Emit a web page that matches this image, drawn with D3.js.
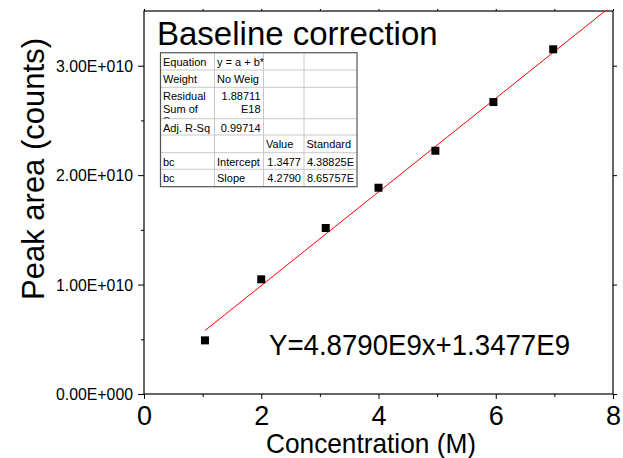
<!DOCTYPE html>
<html>
<head>
<meta charset="utf-8">
<script src="https://cdn.jsdelivr.net/npm/d3@7"></script>
<style>
  body { margin: 0; background: #fff; }
  svg { display: block; font-family: "Liberation Sans", Arial, sans-serif; }
</style>
</head>
<body>
<svg id="chart" width="623" height="458"></svg>
<script>
// values
var concentration = [1.04, 2.0, 3.1, 4.0, 4.97, 5.96, 6.98];
var peakArea = [4.9e9, 1.048e10, 1.517e10, 1.885e10, 2.223e10, 2.668e10, 3.15e10];
var xMajor = [0, 2, 4, 6, 8];
var xMinor = [1, 3, 5, 7];
var yMajor = [0, 1e10, 2e10, 3e10];
var yMinor = [0.5e10, 1.5e10, 2.5e10];
var fitSlope = 4.279e9, fitIntercept = 1.3477e9;

// fit report table (Origin style), rows of cells
var tableRows = [
  ["Equation", "y = a + b*", "", ""],
  ["Weight", "No Weig", "", ""],
  ["Residual\nSum of\nSquares", "1.88711\nE18", "", ""],
  ["Adj. R-Sq", "0.99714", "", ""],
  ["", "", "Value", "Standard"],
  ["bc", "Intercept", "1.3477", "4.38825E"],
  ["bc", "Slope", "4.2790", "8.65757E"]
];

var svg = d3.select("#chart");
var plotL = 144, plotR = 613, plotT = 11, plotB = 394;

var x = d3.scaleLinear().domain([0, 8]).range([plotL, plotR]);
var y = d3.scaleLinear().domain([0, 3.5e10]).range([plotB, plotT]);

svg.append("defs").append("clipPath").attr("id", "plotclip")
  .append("rect").attr("x", plotL).attr("y", plotT)
  .attr("width", plotR - plotL).attr("height", plotB - plotT);

// axes (ticks outward on left / bottom)
var yFmt = function(d){ return d === 0 ? "0.00E+000" : (d / 1e10).toFixed(2) + "E+010"; };

var gy = svg.append("g").attr("transform", "translate(" + plotL + ",0)")
  .call(d3.axisLeft(y).tickValues(yMajor).tickSize(6).tickPadding(5).tickFormat(yFmt));
gy.selectAll("text").attr("font-size", 17).attr("fill", "#000")
  .attr("textLength", 77).attr("lengthAdjust", "spacingAndGlyphs")
  .attr("font-family", "Liberation Sans, Arial, sans-serif");
svg.append("g").attr("transform", "translate(" + plotL + ",0)")
  .call(d3.axisLeft(y).tickValues(yMinor).tickSize(3).tickFormat(""));

var gx = svg.append("g").attr("transform", "translate(0," + plotB + ")")
  .call(d3.axisBottom(x).tickValues(xMajor).tickSize(5).tickPadding(7).tickFormat(d3.format("d")));
gx.selectAll("text").attr("font-size", 27).attr("fill", "#000")
  .attr("font-family", "Liberation Sans, Arial, sans-serif");
svg.append("g").attr("transform", "translate(0," + plotB + ")")
  .call(d3.axisBottom(x).tickValues(xMinor).tickSize(3).tickFormat(""));

// mirrored top / right axes
svg.append("g").attr("transform", "translate(0," + plotT + ")")
  .call(d3.axisTop(x).tickValues(xMajor.concat(xMinor)).tickSize(2).tickFormat(""));
svg.append("g").attr("transform", "translate(" + plotR + ",0)")
  .call(d3.axisRight(y).tickValues(yMajor).tickSize(4).tickFormat(""));

svg.selectAll(".domain").remove();
svg.selectAll(".tick line").attr("stroke", "#000");

svg.append("rect").attr("x", plotL).attr("y", plotT)
  .attr("width", plotR - plotL).attr("height", plotB - plotT)
  .attr("fill", "none").attr("stroke", "#000").attr("stroke-width", 1.2);

// linear fit
svg.append("line").attr("clip-path", "url(#plotclip)")
  .attr("x1", x(d3.min(concentration))).attr("y1", y(fitSlope * d3.min(concentration) + fitIntercept))
  .attr("x2", x(8)).attr("y2", y(fitSlope * 8 + fitIntercept))
  .attr("stroke", "#ff0000").attr("stroke-width", 1);

// data points
svg.append("g").selectAll("rect").data(concentration).enter().append("rect")
  .attr("x", function(d){ return x(d) - 4; })
  .attr("y", function(d, i){ return y(peakArea[i]) - 4; })
  .attr("width", 8).attr("height", 8).attr("fill", "#000");

// titles
svg.append("text").attr("x", 371).attr("y", 453).attr("text-anchor", "middle")
  .attr("font-size", 28).attr("textLength", 210).attr("lengthAdjust", "spacingAndGlyphs")
  .text("Concentration (M)");
svg.append("text").attr("transform", "translate(44,169) rotate(-90)").attr("text-anchor", "middle")
  .attr("font-size", 31).text("Peak area (counts)");
svg.append("text").attr("x", 157).attr("y", 45).attr("font-size", 33).text("Baseline correction");
svg.append("text").attr("x", 269).attr("y", 355).attr("font-size", 30)
  .attr("textLength", 301).attr("lengthAdjust", "spacingAndGlyphs")
  .text("Y=4.8790E9x+1.3477E9");

// table
var colW = [54, 49, 40.5, 53], rowH = [17.3, 17.3, 31.4, 16.3, 17.7, 16.6, 17.4];
var tx = 160.5, ty = 52.7;
var colX = [tx], rowY = [ty];
colW.forEach(function(w, i){ colX.push(colX[i] + w); });
rowH.forEach(function(h, i){ rowY.push(rowY[i] + h); });
var tbl = svg.append("g");
tbl.append("rect").attr("x", tx).attr("y", ty)
  .attr("width", colX[4] - tx).attr("height", rowY[7] - ty).attr("fill", "#fff");
colX.slice(1, 4).forEach(function(cx){
  tbl.append("line").attr("x1", cx).attr("x2", cx).attr("y1", ty).attr("y2", rowY[7])
    .attr("stroke", "#c8c8c8");
});
rowY.slice(1, 7).forEach(function(ry){
  tbl.append("line").attr("x1", tx).attr("x2", colX[4]).attr("y1", ry).attr("y2", ry)
    .attr("stroke", "#c8c8c8");
});
// right-aligned numeric cells
var rightAlign = function(r, c){ return (c === 1 && (r === 2 || r === 3)) || (c === 2 && r >= 5) || (c === 3 && r >= 5); };
tableRows.forEach(function(row, r){
  row.forEach(function(cell, c){
    if (!cell) return;
    var id = "cell" + r + "_" + c;
    tbl.append("clipPath").attr("id", id).append("rect")
      .attr("x", colX[c]).attr("y", rowY[r]).attr("width", colW[c]).attr("height", rowH[r]);
    var ra = rightAlign(r, c);
    var t = tbl.append("text").attr("clip-path", "url(#" + id + ")")
      .attr("font-size", 11).attr("fill", "#000")
      .attr("text-anchor", ra ? "end" : "start");
    cell.split("\n").forEach(function(line, k){
      t.append("tspan").attr("x", ra ? colX[c + 1] - 3 : colX[c] + 2.5)
        .attr("y", rowY[r] + 13 + k * 12.5).text(line);
    });
  });
});
tbl.append("rect").attr("x", tx).attr("y", ty)
  .attr("width", colX[4] - tx).attr("height", rowY[7] - ty)
  .attr("fill", "none").attr("stroke", "#555").attr("stroke-width", 1.2);
</script>
</body>
</html>
